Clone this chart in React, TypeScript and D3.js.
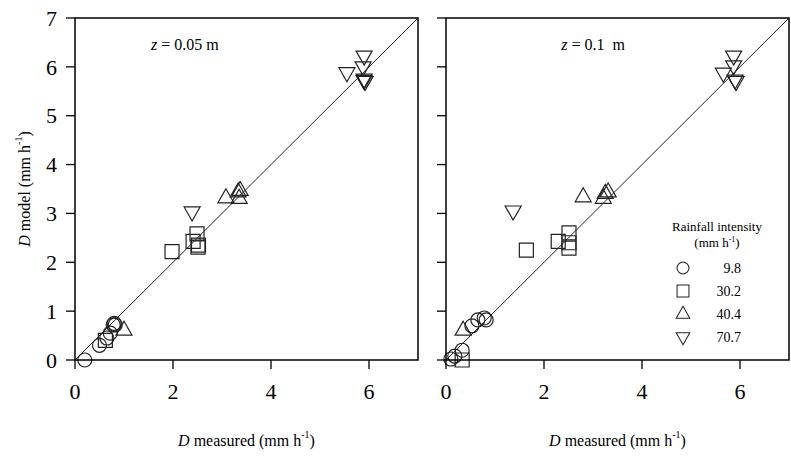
import React from "react";
import * as d3 from "d3";

type P = [number, number];

// Panel z = 0.05 m
const left_c98: P[] = [[0.2, 0.0], [0.5, 0.3], [0.65, 0.45], [0.72, 0.55], [0.78, 0.72], [0.82, 0.72], [0.8, 0.75]];
const left_c302: P[] = [[0.62, 0.4], [1.98, 2.22], [2.41, 2.43], [2.49, 2.58], [2.51, 2.31], [2.52, 2.35]];
const left_c404: P[] = [[1.0, 0.61], [3.08, 3.32], [3.33, 3.44], [3.35, 3.31], [3.37, 3.47]];
const left_c707: P[] = [[2.39, 3.03], [5.9, 6.22], [5.88, 6.0], [5.55, 5.88], [5.9, 5.75], [5.92, 5.7], [5.9, 5.72]];

// Panel z = 0.1 m
const right_c98: P[] = [[0.1, 0.02], [0.18, 0.08], [0.33, 0.2], [0.53, 0.7], [0.65, 0.82], [0.78, 0.86], [0.82, 0.82]];
const right_c302: P[] = [[0.33, 0.0], [1.64, 2.25], [2.29, 2.43], [2.51, 2.6], [2.51, 2.4], [2.51, 2.29]];
const right_c404: P[] = [[0.35, 0.61], [2.8, 3.34], [3.21, 3.31], [3.25, 3.41], [3.31, 3.44]];
const right_c707: P[] = [[1.37, 3.05], [5.87, 6.22], [5.87, 6.02], [5.66, 5.87], [5.9, 5.73], [5.92, 5.7]];

const ticks = [0, 2, 4, 6];
const yTicks = [0, 1, 2, 3, 4, 5, 6, 7];
const legendLabels = ["9.8", "30.2", "40.4", "70.7"];
const shapes = ["circle", "square", "up", "down"];

const font = "Liberation Serif";

function symbolPath(shape: string): string {
  switch (shape) {
    case "circle":
      return "M7,0A7,7 0 1,1 -7,0A7,7 0 1,1 7,0Z";
    case "square":
      return "M-7,-7H7V7H-7Z";
    case "up":
      return "M0,-9L8,5H-8Z";
    default:
      return "M0,9L8,-5H-8Z";
  }
}

function Panel({ x0, series, label, showY }: { x0: number; series: P[][]; label: string; showY: boolean }) {
  const x = d3.scaleLinear().domain([0, 7]).range([x0, x0 + 343]);
  const y = d3.scaleLinear().domain([0, 7]).range([360, 18]);
  return (
    <g>
      <line x1={x(0)} y1={y(0)} x2={x(7)} y2={y(7)} stroke="#222" strokeWidth={1} />
      {series.map((pts, si) =>
        pts.map((p, i) => (
          <path
            key={si + "-" + i}
            d={symbolPath(shapes[si])}
            transform={`translate(${x(p[0])},${y(p[1])})`}
            fill="none"
            stroke="#222"
            strokeWidth={1.2}
          />
        ))
      )}
      <rect x={x(0)} y={y(7)} width={x(7) - x(0)} height={y(0) - y(7)} fill="none" stroke="#000" strokeWidth={1.5} />
      {yTicks.map((t) => (
        <g key={"y" + t}>
          <line x1={x(0) - 9} x2={x(0)} y1={y(t)} y2={y(t)} stroke="#000" strokeWidth={1.3} />
          {showY && (
            <text x={x(0) - 18} y={y(t)} dy="0.35em" textAnchor="end" fontSize={22}>
              {t}
            </text>
          )}
        </g>
      ))}
      {ticks.map((t) => (
        <g key={"x" + t}>
          <line x1={x(t)} x2={x(t)} y1={y(0)} y2={y(0) + 9} stroke="#000" strokeWidth={1.3} />
          <text x={x(t)} y={399} textAnchor="middle" fontSize={22}>
            {t}
          </text>
        </g>
      ))}
      <text x={x(3.5)} y={446} textAnchor="middle" fontSize={16}>
        <tspan fontStyle="italic">D</tspan> measured (mm h
        <tspan dy={-8} fontSize={10}>-1</tspan>
        <tspan dy={8}>)</tspan>
      </text>
      <text x={showY ? x(1.55) : x(2.35)} y={50} fontSize={16}>
        <tspan fontStyle="italic">z</tspan> = {label}
      </text>
    </g>
  );
}

export default function App() {
  return (
    <svg
      width={791}
      height={468}
      fontFamily={font}
      style={{ display: "block", position: "absolute", left: 0, top: 0, fontFamily: "'Liberation Serif', 'DejaVu Serif', serif" }}
    >
      <rect width={791} height={468} fill="#fff" />
      <Panel x0={75} series={[left_c98, left_c302, left_c404, left_c707]} label="0.05 m" showY={true} />
      <Panel x0={446} series={[right_c98, right_c302, right_c404, right_c707]} label={"0.1\u00a0 m"} showY={false} />
      <text transform="translate(30,189) rotate(-90)" textAnchor="middle" fontSize={16}>
        <tspan fontStyle="italic">D</tspan> model (mm h
        <tspan dy={-8} fontSize={10}>-1</tspan>
        <tspan dy={8}>)</tspan>
      </text>
      <g fontSize={13}>
        <text x={717} y={231} textAnchor="middle">Rainfall intensity</text>
        <text x={717} y={247} textAnchor="middle">
          (mm h<tspan dy={-5} fontSize={8}>-1</tspan>
          <tspan dy={5}>)</tspan>
        </text>
        {legendLabels.map((l, i) => (
          <g key={l}>
            <path
              d={symbolPath(shapes[i])}
              transform={`translate(683,${268 + i * 23}) scale(0.85)`}
              fill="none"
              stroke="#222"
              strokeWidth={1.2}
            />
            <text x={741} y={268 + i * 23} dy="0.35em" textAnchor="end" fontSize={14}>
              {l}
            </text>
          </g>
        ))}
      </g>
    </svg>
  );
}
